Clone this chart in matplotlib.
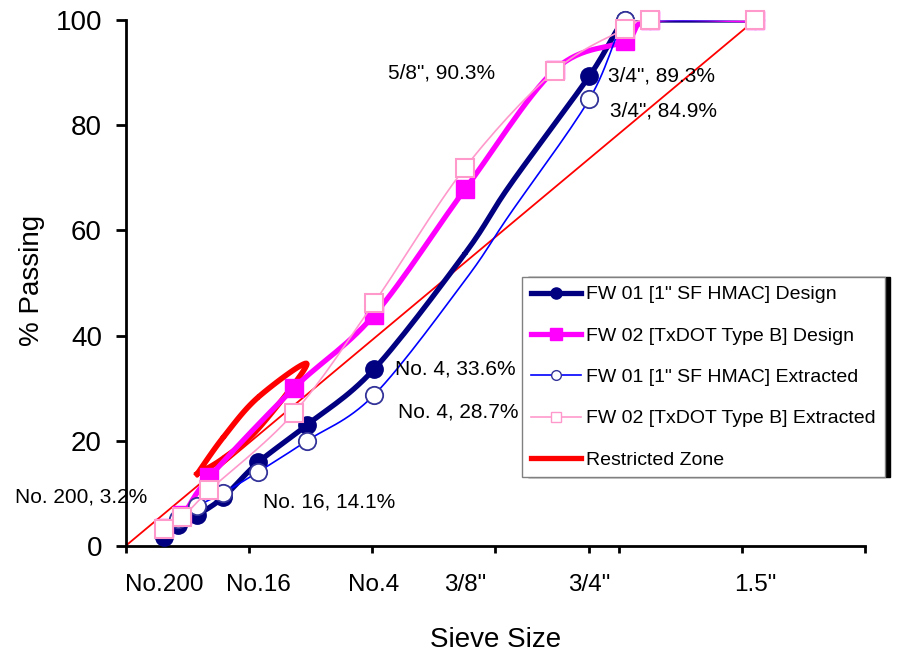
import numpy as np
import matplotlib.pyplot as plt

plt.rcParams['font.family'] = ['Liberation Sans', 'DejaVu Sans']

# sieve openings (mm) and % passing
fw01_sieves = [0.075, 0.15, 0.3, 0.6, 1.18, 2.36, 4.75, 9.5, 12.5, 19, 22.4, 25, 37.5]
fw01_design = [1.8, 4.0, 5.9, 9.3, 15.9, 23.0, 33.6, 55.6, 68.5, 89.3, 100, 100, 100]
fw01_extracted = [3.2, 5.2, 7.6, 10.1, 14.1, 20.0, 28.7, 50.5, 63.0, 84.9, 100, 100, 100]

fw02_sieves = [0.075, 0.18, 0.425, 2.0, 4.75, 9.5, 16, 22.4, 25, 37.5]
fw02_design = [3.5, 5.8, 13.1, 30.0, 43.9, 67.8, 90.5, 96.0, 100, 100]
fw02_extracted = [3.3, 5.5, 10.6, 25.3, 46.2, 71.9, 90.3, 98.3, 100, 100]

rz_sieves = [0.3, 0.6, 1.18, 2.36, 1.18, 0.6, 0.3]
rz_passing = [13.7, 16.7, 22.3, 34.6, 28.3, 20.7, 13.7]

mdl_sieves = [0, 37.5]
mdl_passing = [0, 100]

tick_names = ['No.200', 'No.16', 'No.4', '3/8"', '3/4"', '1.5"']
tick_sieves = [0.075, 1.18, 4.75, 9.5, 19, 37.5]

notes = ['5/8", 90.3%', '3/4", 89.3%', '3/4", 84.9%', 'No. 4, 33.6%',
         'No. 4, 28.7%', 'No. 200, 3.2%', 'No. 16, 14.1%']


def p45(s):
    return np.asarray(s, dtype=float) ** 0.45


def smooth(x, y, n=16):
    # catmull-rom, close to excel's "smoothed line"
    x = np.asarray(x, float)
    y = np.asarray(y, float)
    px = np.concatenate([[x[0]], x, [x[-1]]])
    py = np.concatenate([[y[0]], y, [y[-1]]])
    t = np.linspace(0, 1, n)[:, None]
    xs, ys = [], []
    for i in range(1, len(px) - 2):
        for arr, out in ((px, xs), (py, ys)):
            p0, p1, p2, p3 = arr[i - 1], arr[i], arr[i + 1], arr[i + 2]
            c = 0.5 * ((2 * p1) + (-p0 + p2) * t + (2 * p0 - 5 * p1 + 4 * p2 - p3) * t ** 2
                       + (-p0 + 3 * p1 - 3 * p2 + p3) * t ** 3)
            out.append(c.ravel())
    return np.concatenate(xs), np.concatenate(ys)


fig = plt.figure(figsize=(8.97, 6.65), dpi=100)
ax = fig.add_axes([125.5 / 897, 119 / 665, (865 - 125.5) / 897, (546 - 20) / 665])

navy = '#000080'
mag = '#FF00FF'
blue = '#0000FF'
pink = '#FF99CC'
red = '#FF0000'

ax.plot(p45(mdl_sieves), mdl_passing, color=red, lw=1.3, zorder=2)

x, y = smooth(p45(rz_sieves), rz_passing)
ax.plot(x, y, color=red, lw=4.0, zorder=2.5)

x, y = smooth(p45(fw01_sieves), fw01_design)
ax.plot(x, y, color=navy, lw=3.8, zorder=3)
keep = [i for i, s in enumerate(fw01_sieves) if s not in (9.5, 12.5)]
ax.plot(p45(fw01_sieves)[keep], np.array(fw01_design)[keep], 'o', color=navy,
        ms=12.5, zorder=3, clip_on=False)

x, y = smooth(p45(fw02_sieves), fw02_design)
ax.plot(x, y, color=mag, lw=3.8, zorder=4)
ax.plot(p45(fw02_sieves), fw02_design, 's', color=mag, ms=13, zorder=4, clip_on=False)

x, y = smooth(p45(fw01_sieves), fw01_extracted)
ax.plot(x, y, color=blue, lw=1.2, zorder=5)
ax.plot(p45(fw01_sieves)[keep], np.array(fw01_extracted)[keep], 'o', mfc='white',
        mec='#333399', mew=1.3, ms=12.5, zorder=5, clip_on=False)

x, y = smooth(p45(fw02_sieves), fw02_extracted)
ax.plot(x, y, color=pink, lw=1.2, zorder=6)
ax.plot(p45(fw02_sieves), fw02_extracted, 's', mfc='white', mec=pink, mew=1.5,
        ms=13, zorder=6, clip_on=False)

# legend proxies
h1, = ax.plot([], [], '-o', color=navy, lw=3.8, ms=8)
h2, = ax.plot([], [], '-s', color=mag, lw=3.8, ms=8)
h3, = ax.plot([], [], '-o', color=blue, lw=1.2, mfc='white', mec='#333399', ms=7)
h4, = ax.plot([], [], '-s', color=pink, lw=1.2, mfc='white', mec=pink, ms=7)
h5, = ax.plot([], [], '-', color=red, lw=3.8)
leg = fig.legend([h1, h2, h3, h4, h5],
                 ['FW 01 [1" SF HMAC] Design', 'FW 02 [TxDOT Type B] Design',
                  'FW 01 [1" SF HMAC] Extracted', 'FW 02 [TxDOT Type B] Extracted',
                  'Restricted Zone'],
                 loc='upper left', bbox_to_anchor=(522 / 897, 1 - 277 / 665),
                 borderaxespad=0, fontsize=14, handlelength=2.6, handletextpad=0.25,
                 labelspacing=1.22, borderpad=0.45, fancybox=False, framealpha=1,
                 edgecolor='#808080', shadow={'color': 'black', 'alpha': 1, 'ox': 4, 'oy': 0})
leg.get_frame().set_linewidth(1.0)

# annotations (pixel positions of the original, converted to data)
def px2d(px, py):
    return (px - 125.5) / 123.3, (546 - py) / 5.26

note_px = [(388, 73), (608, 76), (610, 111), (395, 369), (398, 412), (15, 497), (263, 502)]
for txt, (pxx, pyy) in zip(notes, note_px):
    xd, yd = px2d(pxx, pyy)
    ax.text(xd, yd, txt, fontsize=15, ha='left', va='center', clip_on=False, zorder=7)

ax.set_xlim(0, 6)
ax.set_ylim(0, 100)
ax.xaxis.remove_overlapping_locs = False
ax.set_xticks(list(range(7)) + [19 ** 0.45])
ax.set_xticklabels([])
ax.set_xticks(p45(tick_sieves), tick_names, minor=True)
ax.tick_params(axis='x', which='major', direction='out', length=5, width=2)
ax.tick_params(axis='x', which='minor', length=0, pad=20, labelsize=17.5)
ax.set_yticks([0, 20, 40, 60, 80, 100])
ax.tick_params(axis='y', direction='out', length=7, width=2, pad=10, labelsize=20)
for s in ['top', 'right']:
    ax.spines[s].set_visible(False)
for s in ['left', 'bottom']:
    ax.spines[s].set_linewidth(2)

fig.text(32 / 897, 1 - 280 / 665, '% Passing', rotation=90, fontsize=20,
         ha='center', va='center')
fig.text(496 / 897, 1 - 640 / 665, 'Sieve Size', fontsize=20, ha='center', va='center')

fig.savefig('out.png', dpi=100)
